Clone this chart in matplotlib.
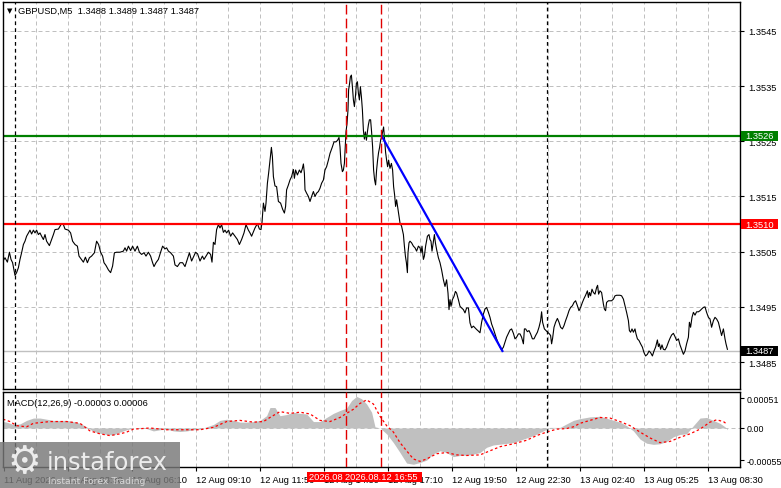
import matplotlib
matplotlib.use('Agg')
import matplotlib.pyplot as plt
from matplotlib.patches import Rectangle
from matplotlib.transforms import blended_transform_factory

plt.rcParams['font.family'] = ['Liberation Sans', 'DejaVu Sans']

# ---------------- data ----------------
bar_time = [
    -0.5, 0.5, 1.7, 2.7, 3.5, 4.3, 5.5, 6.3, 7.2, 8.0, 8.8, 9.7, 10.5, 11.3, 12.2, 13.0, 13.8, 14.7,
    15.5, 16.3, 17.2, 18.0, 18.8, 19.7, 20.5, 21.3, 22.7, 23.8, 24.7, 25.5, 27.2, 28.0, 28.8, 29.7,
    30.5, 32.2, 33.3, 34.3, 35.5, 36.7, 37.5, 38.5, 39.7, 40.7, 41.7, 42.7, 43.8, 45.2, 46.3, 47.3,
    48.3, 49.3, 50.0, 51.0, 52.2, 53.3, 54.3, 55.2, 56.3, 58.0, 59.7, 60.5, 61.3, 62.2, 63.3, 64.3,
    65.5, 66.7, 67.7, 68.8, 70.0, 71.0, 72.2, 73.3, 74.3, 75.0, 76.0, 77.2, 78.3, 79.3, 80.5, 81.3,
    82.2, 83.3, 84.7, 85.5, 86.7, 88.0, 89.3, 90.5, 91.7, 92.7, 93.8, 94.7, 95.8, 96.8, 98.0, 99.2,
    100.0, 101.0, 102.2, 103.3, 104.0, 104.7, 105.5, 106.3, 107.2, 108.0, 108.8, 109.7, 110.5, 111.3,
    112.3, 113.3, 114.3, 115.5, 116.7, 117.7, 118.8, 120.0, 121.0, 122.2, 123.0,
    123.8, 125.5, 126.7, 127.7, 128.5, 129.0, 129.7, 130.5, 131.0, 131.7, 132.3, 133.0, 133.7, 134.2,
    134.7, 135.5, 136.3, 137.2, 138.3, 139.3, 140.2, 140.8, 141.3, 142.2, 143.0, 143.8, 144.7, 145.2,
    145.8, 146.7, 147.7, 148.5, 149.2, 149.7, 150.2, 150.5, 151.3, 152.2, 153.0, 153.8, 154.7, 155.5,
    156.3, 157.2, 158.0, 158.8, 159.7, 160.5, 161.3, 162.2, 163.0, 164.2, 165.0, 166.0, 166.8, 167.5,
    168.0, 168.5, 169.2, 169.7, 170.2, 170.7, 171.0, 171.5, 172.0, 172.3, 172.8, 173.2, 173.7, 174.2,
    174.7, 175.2, 175.7, 176.2, 176.7, 177.2, 177.7, 178.2, 178.7, 179.2, 179.7, 180.2, 180.7, 181.2,
    181.7, 182.2, 182.7, 183.3, 183.8, 184.3, 184.8, 185.3, 185.8, 186.3, 186.8, 187.3, 187.8, 188.3,
    188.8, 189.3, 189.8, 190.3, 190.8, 191.3, 191.8, 192.3, 193.0, 193.7, 194.3, 194.8, 195.3, 195.8,
    196.3, 196.8, 197.3, 198.0, 198.8, 199.7, 200.2, 200.7, 201.2, 201.7, 202.0, 202.5, 203.0, 203.8,
    204.7, 205.5, 206.3, 207.2, 208.0, 208.5, 209.0, 209.7, 210.2, 210.8, 211.7, 212.5, 213.0, 213.5,
    214.0, 214.7, 215.2, 215.7, 216.3, 217.2, 218.0, 218.8, 219.7, 220.5, 221.3, 222.0, 222.5, 223.0,
    223.5, 224.2, 225.0, 225.7, 226.3, 227.2, 228.0, 228.8, 229.7, 230.5, 231.3, 232.2, 233.0, 233.8,
    234.7, 235.5, 236.3, 237.2, 238.0,
    238.8, 239.7, 240.5, 241.3, 242.2, 243.0, 243.8, 244.7, 245.5, 246.3, 247.2, 248.0, 248.8, 249.7,
    250.5, 251.3, 252.2, 253.0, 253.8, 254.7, 255.5, 256.3, 257.2, 258.0, 258.8, 259.7, 260.2, 260.8,
    261.7, 262.5, 263.3, 264.2, 265.0, 265.8, 266.7, 267.5, 268.3, 268.8, 269.3, 270.2, 271.0, 271.8,
    272.7, 273.3, 273.8, 274.3, 275.0, 275.8, 276.7, 277.5, 278.3, 279.2, 280.0, 280.8, 281.7, 282.5,
    283.3, 284.2, 285.0, 285.8, 286.7, 287.5, 288.3, 289.2, 290.0, 290.8, 291.7, 292.2, 292.7, 293.3,
    294.0, 294.7, 295.5, 296.3, 296.8, 297.3, 298.0, 298.8, 299.7, 300.2, 300.8, 301.3, 302.2, 303.0,
    303.8, 304.7, 305.5, 306.3, 307.2, 308.0, 308.8, 309.7, 310.5, 311.3, 312.2, 312.7, 313.3, 314.0,
    314.7, 315.5, 316.0, 316.7, 317.5, 318.3, 319.2, 320.0, 320.8, 321.7, 322.5, 323.3, 324.2, 325.0,
    325.8, 326.7, 327.2, 327.7, 328.3, 329.0, 329.7, 330.5, 331.3, 332.2, 333.0, 333.8, 334.7, 335.5,
    336.3, 337.2, 338.0, 338.8, 339.7, 340.5, 341.3, 342.2, 342.7, 343.3, 344.0, 344.7, 345.5, 346.3,
    347.2, 348.0, 348.8, 349.7, 350.5, 351.3, 352.2, 353.0, 353.8, 354.7, 355.5, 356.3, 357.2, 358.0,
    358.8, 359.7, 360.5, 361.0, 361.7,
]
close = [
    1.35033, 1.35039, 1.35031, 1.35049, 1.35036, 1.35030, 1.35007, 1.35012, 1.35021, 1.35036, 1.35048,
    1.35063, 1.35069, 1.35078, 1.35084, 1.35089, 1.35082, 1.35089, 1.35084, 1.35089, 1.35081, 1.35084,
    1.35078, 1.35072, 1.35081, 1.35069, 1.35061, 1.35072, 1.35081, 1.35090, 1.35091, 1.35096, 1.35101,
    1.35099, 1.35091, 1.35089, 1.35084, 1.35069, 1.35063, 1.35060, 1.35042, 1.35037, 1.35031, 1.35040,
    1.35030, 1.35039, 1.35042, 1.35048, 1.35069, 1.35063, 1.35049, 1.35042, 1.35030, 1.35025, 1.35017,
    1.35012, 1.35024, 1.35048, 1.35049, 1.35049, 1.35051, 1.35057, 1.35051, 1.35060, 1.35052, 1.35060,
    1.35051, 1.35060, 1.35049, 1.35045, 1.35048, 1.35042, 1.35049, 1.35042, 1.35030, 1.35023, 1.35030,
    1.35036, 1.35049, 1.35060, 1.35055, 1.35057, 1.35051, 1.35048, 1.35042, 1.35026, 1.35023, 1.35030,
    1.35030, 1.35023, 1.35037, 1.35048, 1.35033, 1.35040, 1.35049, 1.35046, 1.35033, 1.35042, 1.35036,
    1.35042, 1.35049, 1.35045, 1.35031, 1.35067, 1.35063, 1.35090, 1.35099, 1.35093, 1.35099, 1.35085,
    1.35089, 1.35084, 1.35089, 1.35078, 1.35084, 1.35078, 1.35072, 1.35063, 1.35072, 1.35084, 1.35099,
    1.35089, 1.35084,
    1.35078, 1.35093, 1.35101, 1.35091, 1.35090, 1.35103, 1.35138, 1.35123, 1.35138, 1.35174, 1.35192,
    1.35216, 1.35239, 1.35222, 1.35186, 1.35169, 1.35168, 1.35141, 1.35138, 1.35127, 1.35120, 1.35132,
    1.35162, 1.35171, 1.35180, 1.35186, 1.35199, 1.35183, 1.35198, 1.35189, 1.35198, 1.35193, 1.35201,
    1.35209, 1.35192, 1.35162, 1.35156, 1.35150, 1.35141, 1.35150, 1.35159, 1.35150, 1.35156, 1.35159,
    1.35165, 1.35174, 1.35180, 1.35198, 1.35204, 1.35216, 1.35228, 1.35240, 1.35249, 1.35249, 1.35252,
    1.35257, 1.35240, 1.35210, 1.35195, 1.35198, 1.35210, 1.35246, 1.35267, 1.35282, 1.35307, 1.35343,
    1.35355, 1.35367, 1.35370, 1.35349, 1.35325, 1.35313, 1.35331, 1.35355, 1.35358, 1.35337, 1.35325,
    1.35349, 1.35331, 1.35307, 1.35270, 1.35254, 1.35267, 1.35252, 1.35267, 1.35280, 1.35289, 1.35289,
    1.35267, 1.35240, 1.35198, 1.35180, 1.35171, 1.35198, 1.35216, 1.35230, 1.35239, 1.35252, 1.35258,
    1.35267, 1.35276, 1.35254, 1.35230, 1.35216, 1.35204, 1.35216, 1.35201, 1.35210, 1.35198, 1.35168,
    1.35153, 1.35132, 1.35144, 1.35132, 1.35120, 1.35102, 1.35096, 1.35081, 1.35060, 1.35042, 1.35030,
    1.35012, 1.35048, 1.35066, 1.35069, 1.35066, 1.35060, 1.35057, 1.35051, 1.35060, 1.35057, 1.35048,
    1.35060, 1.35036, 1.35042, 1.35060, 1.35078, 1.35081, 1.35072, 1.35069, 1.35051, 1.35069, 1.35081,
    1.35066, 1.35054, 1.35039, 1.35030, 1.35017, 1.34999, 1.34987, 1.34999, 1.34975, 1.34945, 1.34963,
    1.34951, 1.34963, 1.34969, 1.34978, 1.34975, 1.34963, 1.34951, 1.34948, 1.34945, 1.34939, 1.34948,
    1.34948, 1.34921, 1.34912, 1.34915, 1.34912, 1.34909, 1.34906, 1.34903,
    1.34922, 1.34937, 1.34946, 1.34949, 1.34940, 1.34931, 1.34919, 1.34910, 1.34901, 1.34892, 1.34883,
    1.34877, 1.34872, 1.34877, 1.34886, 1.34895, 1.34902, 1.34908, 1.34910, 1.34902, 1.34892, 1.34895,
    1.34901, 1.34901, 1.34895, 1.34883, 1.34910, 1.34910, 1.34905, 1.34907, 1.34901, 1.34892, 1.34892,
    1.34898, 1.34904, 1.34913, 1.34925, 1.34941, 1.34922, 1.34910, 1.34907, 1.34904, 1.34901, 1.34898,
    1.34883, 1.34893, 1.34913, 1.34922, 1.34929, 1.34922, 1.34913, 1.34910, 1.34916, 1.34925, 1.34934,
    1.34943, 1.34949, 1.34952, 1.34958, 1.34961, 1.34952, 1.34943, 1.34949, 1.34958, 1.34965, 1.34971,
    1.34979, 1.34967, 1.34976, 1.34970, 1.34982, 1.34976, 1.34973, 1.34985, 1.34989, 1.34973, 1.34979,
    1.34976, 1.34955, 1.34946, 1.34943, 1.34958, 1.34961, 1.34961, 1.34961, 1.34964, 1.34970, 1.34971,
    1.34971, 1.34971, 1.34970, 1.34964, 1.34952, 1.34940, 1.34925, 1.34907, 1.34904, 1.34910, 1.34904,
    1.34910, 1.34901, 1.34892, 1.34889, 1.34883, 1.34877, 1.34867, 1.34861, 1.34864, 1.34870, 1.34867,
    1.34861, 1.34870, 1.34877, 1.34890, 1.34878, 1.34883, 1.34873, 1.34881, 1.34873, 1.34872, 1.34877,
    1.34886, 1.34893, 1.34899, 1.34902, 1.34896, 1.34889, 1.34892, 1.34881, 1.34873, 1.34864, 1.34870,
    1.34883, 1.34895, 1.34922, 1.34913, 1.34931, 1.34940, 1.34935, 1.34941, 1.34941, 1.34943, 1.34946,
    1.34949, 1.34950, 1.34940, 1.34931, 1.34928, 1.34913, 1.34925, 1.34931, 1.34928, 1.34922, 1.34910,
    1.34898, 1.34910, 1.34892, 1.34883, 1.34873,
]

hist_time = [
    -0.5, 1.3, 4.7, 8.0, 11.3, 14.7, 18.0, 21.3, 24.7, 28.0, 31.3, 34.7, 38.0, 41.3, 44.7, 48.0, 51.3,
    54.7, 58.0, 61.3, 64.7, 68.0, 71.3, 74.7, 78.0, 81.3, 84.7, 88.0, 91.3, 94.7, 98.0, 101.3, 104.7,
    108.0, 111.3, 114.7, 118.0, 121.3, 124.7, 128.0, 131.3, 133.0, 135.5, 138.0, 141.3, 144.7, 148.0,
    151.3, 154.7, 158.0, 161.3, 164.7, 168.0, 171.3, 173.8, 176.3, 178.8, 181.3, 183.8, 185.5, 188.0,
    191.3, 194.7, 198.0, 201.3, 204.7, 208.0, 211.3, 214.7, 218.0, 221.3, 224.7, 228.0, 233.0, 238.0,
    241.3, 244.7, 249.7, 254.7, 259.7, 264.7, 269.7, 273.0, 278.0, 281.3, 284.7, 288.0, 293.0, 298.0,
    303.0, 308.0, 311.3, 314.7, 318.0, 321.3, 324.7, 328.0, 331.3, 334.7, 338.0, 341.3, 344.7, 348.0,
    351.3, 354.7, 358.0, 360.5, 361.7,
]
hist_val = [
    0.00011, 0.00010, 0.00006, 0.00007, 0.00013, 0.00017, 0.00017, 0.00015, 0.00013, 0.00013, 0.00013,
    0.00011, 0.00008, 0.00002, -0.00006, -0.00009, -0.00011, -0.00012, -0.00007, -0.00003, 0.0, 0.00001,
    -0.00001, -0.00005, -0.00003, -0.00002, -0.00005, -0.00006, -0.00005, -0.00003, -0.00002, 0.00002,
    0.00006, 0.00013, 0.00015, 0.00013, 0.00010, 0.00010, 0.00011, 0.00013, 0.00021, 0.00035, 0.00035,
    0.00021, 0.00023, 0.00027, 0.00025, 0.00024, 0.00011, 0.00011, 0.00018, 0.00025, 0.00030, 0.00034,
    0.00047, 0.00054, 0.00050, 0.00041, 0.00027, 0.00002, 0.0, -0.00010, -0.00025, -0.00042, -0.00060,
    -0.00062, -0.00059, -0.00055, -0.00044, -0.00039, -0.00042, -0.00049, -0.00047, -0.00046, -0.00042,
    -0.00033, -0.00029, -0.00027, -0.00025, -0.00019, -0.00013, -0.00005, 0.00001, 0.00001, 0.00007,
    0.00013, 0.00016, 0.00019, 0.00020, 0.00015, 0.00010, 0.00004, -0.00005, -0.00019, -0.00026,
    -0.00028, -0.00027, -0.00023, -0.00015, -0.00011, -0.00010, 0.00004, 0.00017, 0.00018, 0.00013,
    0.00008, 0.00002, -0.00003,
]

sig_time = [
    -0.5, 3.0, 6.3, 11.3, 14.7, 23.0, 31.3, 38.0, 43.0, 48.0, 53.0, 58.0, 61.3, 64.7, 73.0, 81.3, 89.7,
    98.0, 104.7, 111.3, 118.0, 124.7, 129.7, 133.0, 138.0, 143.0, 148.0, 153.0, 158.0, 163.0, 168.0,
    171.3, 174.7, 178.0, 181.3, 184.7, 188.0, 191.3, 194.7, 198.0, 201.3, 204.7, 208.0, 211.3, 216.3,
    221.3, 226.3, 231.3, 238.0, 243.0, 248.0, 254.7, 261.3, 266.3, 271.3, 276.3, 281.3, 284.7, 288.0,
    293.0, 298.0, 303.0, 308.0, 313.0, 318.0, 323.0, 328.0, 333.0, 338.0, 343.0, 348.0, 353.0, 356.3,
    359.7, 361.7,
]
sig_val = [
    0.00015, 0.00011, 0.00004, 0.00002, 0.00008, 0.00011, 0.00011, 0.00008, -0.00005, -0.00010, -0.00013,
    -0.00010, -0.00007, -0.00002, 0.0, -0.00003, -0.00003, -0.00003, 0.00001, 0.00011, 0.00013, 0.00010,
    0.00011, 0.00018, 0.00028, 0.00025, 0.00027, 0.00024, 0.00013, 0.00011, 0.00018, 0.00025, 0.00032,
    0.00042, 0.00048, 0.00041, 0.00020, 0.00004, -0.00007, -0.00025, -0.00039, -0.00053, -0.00057,
    -0.00053, -0.00044, -0.00042, -0.00046, -0.00047, -0.00046, -0.00039, -0.00032, -0.00027, -0.00021,
    -0.00013, -0.00007, -0.00002, -0.00001, 0.00002, 0.00008, 0.00013, 0.00018, 0.00017, 0.00011,
    0.00004, -0.00007, -0.00017, -0.00025, -0.00023, -0.00016, -0.00010, -0.00002, 0.00010, 0.00014,
    0.00011, 0.00006,
]

price_ticks = [1.3485, 1.3495, 1.3505, 1.3515, 1.3525, 1.3535, 1.3545]
price_tick_labels = ['1.3485', '1.3495', '1.3505', '1.3515', '1.3525', '1.3535', '1.3545']
macd_ticks = [-0.00055, 0.0, 0.00051]
macd_tick_labels = ['-0.00055', '0.00', '0.00051']
time_label_bars = [0, 32, 64, 96, 128, 160, 192, 224, 256, 288, 320, 352]
time_labels = ['11 Aug 2026', '12 Aug 03:30', '12 Aug 06:10', '12 Aug 09:10', '12 Aug 11:50',
               '12 Aug 14:30', '12 Aug 17:10', '12 Aug 19:50', '12 Aug 22:30', '13 Aug 02:40',
               '13 Aug 05:25', '13 Aug 08:30']
resistance = 1.3526
support = 1.3510
last_price = 1.3487
trend_time = [188.8, 249.2]
trend_price = [1.3526, 1.3487]
marker_time = [170.8, 188.7]
marker_labels = ['2026.08.12 15:25', '2026.08.12 16:55']
separator_time = [5.5, 271.5]
title_text = 'GBPUSD,M5  1.3488 1.3489 1.3487 1.3487'
macd_text = 'MACD(12,26,9) -0.00003 0.00006'

# ---------------- figure ----------------
W, H = 781, 489
fig = plt.figure(figsize=(W / 100, H / 100), dpi=100)
ax = fig.add_axes([3 / W, 1 - 390 / H, 737 / W, 387 / H])
axm = fig.add_axes([3 / W, 1 - 468 / H, 737 / W, 75.5 / H])
FS = 6.7
GRID = '#c0c0c0'

for a in (ax, axm):
    a.set_xlim(-0.5, 368)
    for s in a.spines.values():
        s.set_color('black')
        s.set_linewidth(1.0)
    for k in range(16, 368, 16):
        a.axvline(k, color=GRID, lw=0.72, ls=(0, (4, 3)), zorder=0.5)
    for st in separator_time:
        a.axvline(st, color='black', lw=0.9, ls=(0, (3, 2.5)), zorder=3)
    for mt in marker_time:
        a.axvline(mt, color='#e00000', lw=1.0, ls=(0, (7, 3)), zorder=3)

ax.set_ylim(1.348011, 1.355025)
for p in price_ticks:
    ax.axhline(p, color=GRID, lw=0.72, ls=(0, (4, 3)), zorder=0.5)
ax.axhline(last_price, color='#c0c0c0', lw=1.0, zorder=1)
ax.plot(bar_time, close, color='black', lw=0.8, zorder=2)
ax.axhline(resistance, color='#008000', lw=1.6, zorder=2.5)
ax.axhline(support, color='#ff0000', lw=1.6, zorder=2.5)
ax.plot(trend_time, trend_price, color='#0000ff', lw=1.6, zorder=2.6)

ax.yaxis.tick_right()
ax.set_yticks(price_ticks)
ax.set_yticklabels(price_tick_labels)
ax.set_xticks([])
ax.tick_params(axis='y', direction='out', length=3, width=0.8, pad=3, labelsize=FS, colors='black')

# price label boxes on right scale
bt = blended_transform_factory(ax.transAxes, ax.transData)
box_h = 9.5 / 55.2 * 0.001
for val, col in [(resistance, '#008000'), (support, '#ff0000'), (last_price, 'black')]:
    ax.add_patch(Rectangle((1.0014, val - box_h / 2), 0.0502, box_h, transform=bt,
                           facecolor=col, edgecolor='none', clip_on=False, zorder=5))
    ax.text(1.0075, val, f'{val:.4f}', transform=bt, color='white', fontsize=FS,
            va='center', ha='left', zorder=6, clip_on=False)

ax.text(0.006, 0.979, '\u25bc', transform=ax.transAxes, fontsize=5, va='center', ha='left',
        family=['DejaVu Sans'])
ax.text(0.020, 0.979, title_text, transform=ax.transAxes, fontsize=FS, va='center', ha='left')

# MACD panel
axm.set_ylim(-0.000667, 0.000624)
axm.axhline(0.0, color=GRID, lw=0.72, ls=(0, (4, 3)), zorder=0.5)
axm.fill_between(hist_time, hist_val, 0, color='#c0c0c0', lw=0, zorder=1)
axm.plot(sig_time, sig_val, color='#ff0000', lw=0.9, ls=(0, (2, 2)), zorder=2)
axm.yaxis.tick_right()
axm.set_yticks(macd_ticks)
axm.set_yticklabels(macd_tick_labels)
axm.set_xticks(time_label_bars)
axm.set_xticklabels(time_labels, ha='left')
axm.tick_params(axis='y', direction='out', length=3, width=0.8, pad=1.5, labelsize=6.4)
axm.tick_params(axis='x', direction='out', length=3, width=0.8, pad=2.5, labelsize=FS)
axm.text(0.006, 0.86, macd_text, transform=axm.transAxes, fontsize=FS, va='center', ha='left', zorder=4)

# time markers on x axis (later marker drawn over earlier one)
mt_tr = blended_transform_factory(axm.transData, fig.transFigure)
y0 = 1 - 483.3 / H
bh = 10.6 / H
for i, (mt, lab) in enumerate(zip(marker_time, marker_labels)):
    z = 5 + i
    axm.add_patch(Rectangle((mt - 19.2, y0), 39.5, bh, transform=mt_tr, facecolor='#ff0000',
                            edgecolor='none', clip_on=False, zorder=z))
    axm.text(mt - 18.2, y0 + bh / 2, lab, transform=mt_tr, color='white', fontsize=FS,
             va='center', ha='left', zorder=z + 0.5, clip_on=False)

# watermark
fig.patches.append(Rectangle((0, 0), 180 / W, 46 / H, transform=fig.transFigure,
                             facecolor='#787878', alpha=0.82, edgecolor='none', zorder=10))
fig.text(24 / W, 1 - 463 / H, '\u2699', fontsize=27, color='#ececec', ha='center', va='center',
         family=['DejaVu Sans'], zorder=11)
fig.text(47 / W, 1 - 470 / H, 'instaforex', fontsize=17.5, color='#ececec', ha='left',
         va='baseline', family=['DejaVu Sans'], zorder=11)
fig.text(48 / W, 1 - 481.5 / H, 'Instant Forex Trading', fontsize=6.7, color='#d8d8d8', ha='left',
         va='center', family=['DejaVu Sans'], zorder=11)

fig.savefig('out.png', dpi=100, facecolor='white')
